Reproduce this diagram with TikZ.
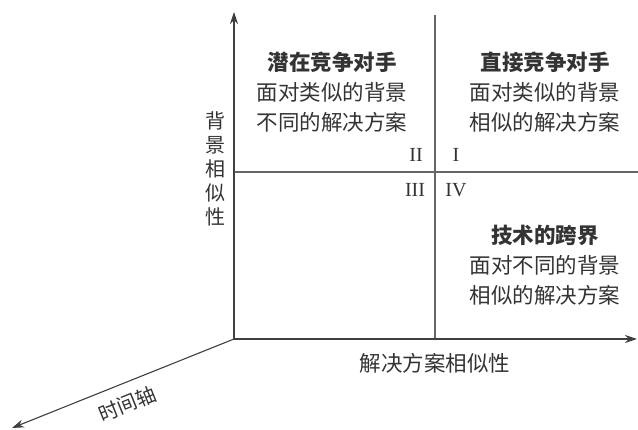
\documentclass[tikz,border=0pt]{standalone}
\usepackage{fontspec}
\setmainfont{Liberation Serif}
\newfontfamily\cjk{Noto Sans CJK SC}
\usetikzlibrary{arrows.meta}

\begin{document}
\begin{tikzpicture}[x=1pt, y=-1pt,
    every node/.style={text=black!80, font=\cjk\fontsize{21.5}{30}\selectfont, align=center},
    axis/.style={draw=black!75, line width=1.1pt, -{Stealth[length=12pt, width=8pt]}},
    divider/.style={draw=black!60, line width=1.1pt},
    numeral/.style={font=\fontsize{20}{24}\selectfont}]

    \useasboundingbox (0,0) rectangle (638,430);

    \coordinate (origin) at (234,339);
    \coordinate (ytip) at (234,12);
    \coordinate (xtip) at (637,339);
    \coordinate (ttip) at (12,428);
    \coordinate (vtop) at (435,15);
    \coordinate (vbot) at (435,339);
    \coordinate (hleft) at (234,172);
    \coordinate (hright) at (638,172);

    \draw[divider] (vtop) -- (vbot);
    \draw[divider] (hleft) -- (hright);

    \draw[axis] (origin) -- (ytip);
    \draw[axis] (origin) -- (xtip);
    \draw[axis] (origin) -- (ttip);

    \node (q2) at (332,92) {\textbf{潜在竞争对手}\\面对类似的背景\\不同的解决方案};
    \node (q1) at (545,92) {\textbf{直接竞争对手}\\面对类似的背景\\相似的解决方案};
    \node (q4) at (545,265) {\textbf{技术的跨界}\\面对不同的背景\\相似的解决方案};

    \node[numeral] (n2) at (416,155) {II};
    \node[numeral] (n1) at (456,155) {I};
    \node[numeral] (n3) at (415,190) {III};
    \node[numeral] (n4) at (456,190) {IV};

    \node (xlabel) at (435,363) {解决方案相似性};
    \node[font=\cjk\fontsize{20}{24}\selectfont] (ylabel) at (215,169) {背\\景\\相\\似\\性};
    \node[rotate=22, font=\cjk\fontsize{20}{24}\selectfont] (tlabel) at (127,404) {时间轴};

\end{tikzpicture}
\end{document}
